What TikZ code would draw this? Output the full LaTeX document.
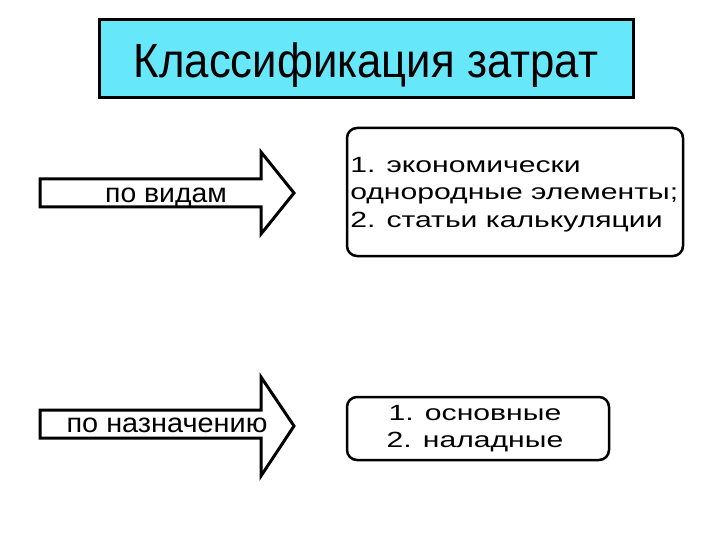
\documentclass[tikz,border=0pt]{standalone}
\usepackage{fontspec}
\setmainfont{Liberation Sans}
\begin{document}
\begin{tikzpicture}[x=1pt,y=-1pt,
  bigarrow/.style={draw=black,line width=3pt,fill=white,line join=miter},
  infobox/.style={draw=black,line width=2.5pt,rounded corners=10pt,fill=white},
  lbl/.style={inner sep=0pt,anchor=base},
  boxtext/.style={inner sep=0pt,xscale=1.37,font=\fontsize{22}{27}\selectfont}]
\useasboundingbox (0,0) rectangle (720,540);
% title
\node[draw=black,line width=3pt,fill={rgb,255:red,102;green,232;blue,250},minimum width=534pt,minimum height=78pt,inner sep=0pt] (title) at (366,59) {};
\node[lbl,xscale=0.91,font=\fontsize{48}{56}\selectfont] (titletext) at (366,78) {Классификация затрат};
% arrow 1
\draw[bigarrow] (40,179) -- (261,179) -- (261,152) -- (294,193) -- (261,234) -- (261,207) -- (40,207) -- cycle;
\node[lbl,xscale=1.05,font=\fontsize{27}{30}\selectfont] (a1) at (166,203) {по видам};
% arrow 2
\draw[bigarrow] (40,410) -- (261,410) -- (261,377) -- (294,426) -- (261,476) -- (261,438) -- (40,438) -- cycle;
\node[lbl,xscale=1.07,font=\fontsize{27}{30}\selectfont] (a2) at (167,432) {по назначению};
% box 1
\draw[infobox] (347,128) rectangle (683,256);
\node[boxtext,anchor=base west] (b1a) at (350,173) {1. экономически};
\node[boxtext,anchor=base west] (b1b) at (350,200) {однородные элементы;};
\node[boxtext,anchor=base west] (b1c) at (350,227) {2. статьи калькуляции};
% box 2
\draw[infobox] (347,397) rectangle (609,460);
\node[boxtext,anchor=base] (b2a) at (475,420) {1. основные};
\node[boxtext,anchor=base] (b2b) at (475,447) {2. наладные};
\end{tikzpicture}
\end{document}
